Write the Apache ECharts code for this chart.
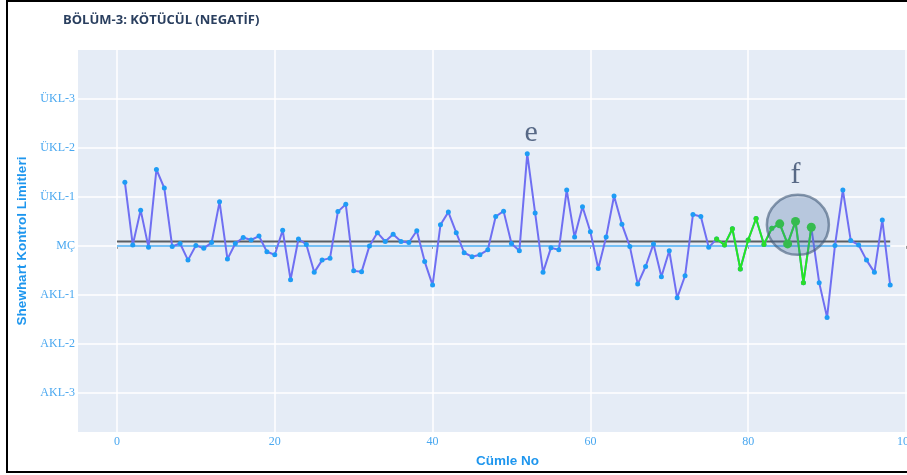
<!DOCTYPE html>
<html>
<head>
<meta charset="utf-8">
<script src="https://cdn.jsdelivr.net/npm/echarts@6/dist/echarts.min.js"></script>
<style>
  html, body { margin: 0; padding: 0; background: #fff; }
  #chart { width: 907px; height: 475px; }
</style>
</head>
<body>
<div id="chart"></div>
<script>
// sentence numbers 1..98 and their control-chart scores
var sentenceNo = [];
for (var n = 1; n <= 98; n++) sentenceNo.push(n);

var scores = [
  1.30, 0.02, 0.73, -0.03, 1.56, 1.18, -0.01, 0.05, -0.29, 0.01,
  -0.05, 0.07, 0.90, -0.27, 0.05, 0.17, 0.12, 0.20, -0.12, -0.18,
  0.32, -0.69, 0.14, 0.03, -0.54, -0.29, -0.25, 0.70, 0.85, -0.51,
  -0.53, 0.00, 0.27, 0.09, 0.24, 0.09, 0.07, 0.31, -0.32, -0.80,
  0.43, 0.69, 0.27, -0.14, -0.22, -0.18, -0.08, 0.60, 0.71, 0.05,
  -0.10, 1.88, 0.67, -0.54, -0.04, -0.08, 1.14, 0.18, 0.80, 0.29,
  -0.46, 0.18, 1.02, 0.44, -0.01, -0.78, -0.42, 0.04, -0.63, -0.10,
  -1.06, -0.61, 0.64, 0.60, -0.03, 0.14, 0.02, 0.35, -0.47, 0.12,
  0.56, 0.03, 0.36, 0.45, 0.04, 0.50, -0.75, 0.38, -0.75, -1.46,
  0.01, 1.14, 0.11, 0.02, -0.29, -0.54, 0.53, -0.80
];

// highlighted run (green) and the points inside the circle
var runStart = 76;
var runEnd = 88;
var circledPoints = [84, 85, 86, 88];

// reference lines
var meanLine = 0.09;
var centerLine = 0;
var refLineX = [0, 98];

// axis ticks
var xTickValues = [0, 20, 40, 60, 80, 100];
var yTickValues = [-3, -2, -1, 0, 1, 2, 3];
var yTickLabels = ['AKL-3', 'AKL-2', 'AKL-1', 'MÇ', 'ÜKL-1', 'ÜKL-2', 'ÜKL-3'];

// annotations
var noteLabels = ['e', 'f'];
var notePos = [[52.5, 2.3], [86, 1.45]];
var circlePos = [86.3, 0.43];

var myChart = echarts.init(document.getElementById('chart'));

var mainData = sentenceNo.map(function (x, i) { return [x, scores[i]]; });
var runData = [];
for (var k = runStart; k <= runEnd; k++) {
  var big = circledPoints.indexOf(k) >= 0;
  runData.push({ value: [k, scores[k - 1]], symbolSize: big ? 9 : 5 });
}

var tickFont = 'Liberation Serif, Times New Roman, serif';
var titleFont = 'Liberation Sans, Arial, sans-serif';

var option = {
  animation: false,
  backgroundColor: '#fff',
  title: {
    text: 'BÖLÜM-3: KÖTÜCÜL (NEGATİF)',
    left: 58,
    top: 9,
    textStyle: { fontFamily: 'Open Sans', fontWeight: 'bold', fontSize: 13, color: '#2a3f5f' }
  },
  graphic: [{
    type: 'rect',
    shape: { x: 7, y: 1, width: 940, height: 471 },
    style: { fill: 'none', stroke: '#000', lineWidth: 2 },
    silent: true
  }],
  grid: {
    left: 78,
    top: 50,
    right: 0,
    bottom: 43,
    outerBoundsMode: 'none',
    show: true,
    backgroundColor: '#e5ecf6',
    borderWidth: 0
  },
  xAxis: {
    type: 'value',
    min: -4.94,
    max: 100.13,
    name: 'Cümle No',
    nameLocation: 'middle',
    nameGap: 22,
    nameTextStyle: { fontFamily: titleFont, fontWeight: 'bold', fontSize: 13.5, color: '#1e96ee', padding: [0, 0, 0, 30] },
    axisLine: { show: false },
    axisTick: { show: true, customValues: xTickValues, length: 3, lineStyle: { color: '#999' } },
    axisLabel: { customValues: xTickValues, margin: 4, fontFamily: tickFont, fontSize: 12, color: '#4aa8f0' },
    splitLine: { show: true, lineStyle: { color: '#fff', width: 1.5 } }
  },
  yAxis: {
    type: 'value',
    min: -3.8,
    max: 4.0,
    name: 'Shewhart Kontrol Limitleri',
    nameLocation: 'middle',
    nameGap: 47,
    nameTextStyle: { fontFamily: titleFont, fontWeight: 'bold', fontSize: 13.5, color: '#1e96ee' },
    axisLine: { show: false },
    axisTick: { show: false, customValues: yTickValues },
    axisLabel: {
      customValues: yTickValues,
      margin: 3,
      fontFamily: tickFont,
      fontSize: 12,
      color: '#4aa8f0',
      formatter: function (v) { return yTickLabels[yTickValues.indexOf(Math.round(v))]; }
    },
    splitLine: { show: true, lineStyle: { color: '#fff', width: 1.5 } }
  },
  series: [
    {
      name: 'MÇ',
      type: 'line',
      data: refLineX.map(function (x) { return [x, centerLine]; }),
      symbol: 'none',
      lineStyle: { color: '#74bff5', width: 2 },
      z: 2
    },
    {
      name: 'Ortalama',
      type: 'line',
      data: refLineX.map(function (x) { return [x, meanLine]; }),
      symbol: 'none',
      lineStyle: { color: '#5a5e63', width: 2 },
      z: 2
    },
    {
      name: 'Skor',
      type: 'line',
      data: mainData,
      symbol: 'circle',
      symbolSize: 5,
      itemStyle: { color: '#1e9cf5', borderWidth: 0 },
      lineStyle: { color: '#6f6ff2', width: 2 },
      z: 3
    },
    {
      name: 'Seri',
      type: 'line',
      data: runData,
      symbol: 'circle',
      itemStyle: { color: '#2bdc2b', borderWidth: 0 },
      lineStyle: { color: '#22e822', width: 2 },
      z: 4
    },
    {
      name: 'circle',
      type: 'scatter',
      data: [circlePos],
      symbol: 'circle',
      symbolSize: [62, 60],
      itemStyle: { color: 'rgba(80,115,165,0.38)', borderColor: 'rgba(65,90,120,0.75)', borderWidth: 2.5 },
      silent: true,
      z: 5
    },
    {
      name: 'notes',
      type: 'scatter',
      data: noteLabels.map(function (t, i) { return { name: t, value: notePos[i] }; }),
      symbolSize: 0,
      label: {
        show: true,
        position: 'inside',
        formatter: '{b}',
        fontFamily: tickFont,
        fontSize: 30,
        color: '#34496a'
      },
      silent: true,
      z: 6
    }
  ]
};

myChart.setOption(option);
</script>
</body>
</html>
